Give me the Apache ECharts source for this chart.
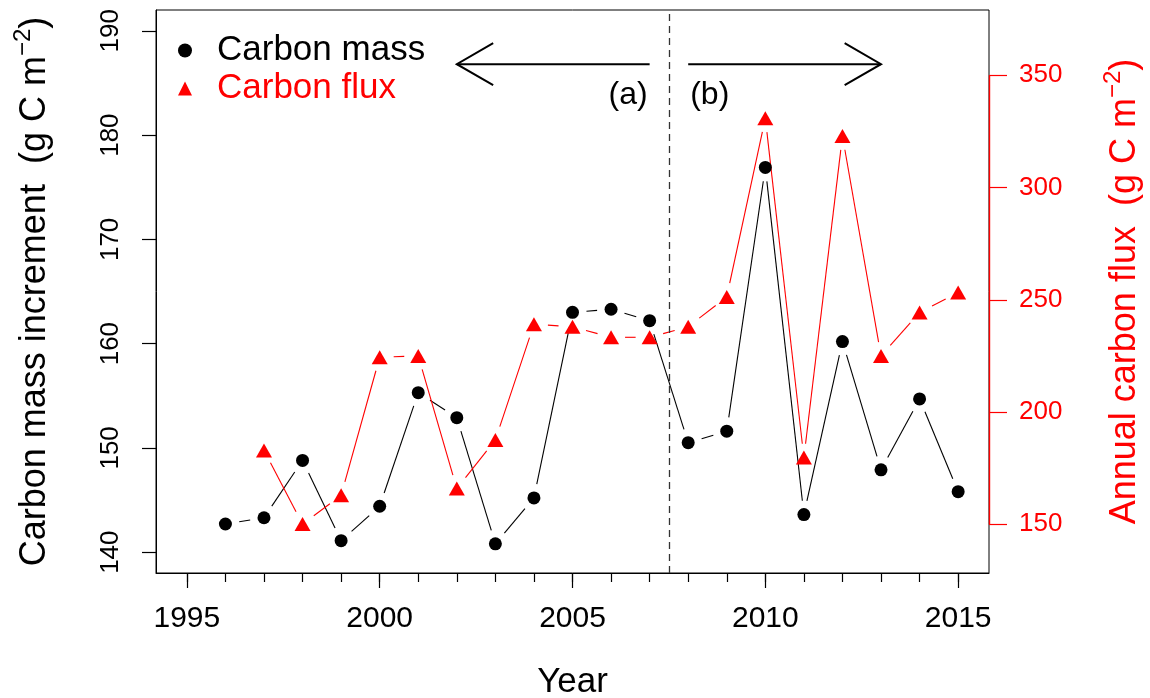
<!DOCTYPE html>
<html><head><meta charset="utf-8">
<script src="https://cdn.jsdelivr.net/npm/echarts@6/dist/echarts.min.js"></script>
<style>html,body{margin:0;padding:0;background:#fff}#c{width:1150px;height:698px}</style>
</head><body><div id="c"></div>
<script>
// ---- data ----
const massYears = [1996,1997,1998,1999,2000,2001,2002,2003,2004,2005,2006,2007,2008,2009,2010,2011,2012,2013,2014,2015];
const carbonMass = [142.7,143.3,148.8,141.1,144.4,155.3,152.9,140.8,145.2,163.0,163.3,162.2,150.5,151.6,176.9,143.6,160.2,147.9,154.7,145.8];
const fluxYears = [1997,1998,1999,2000,2001,2002,2003,2004,2005,2006,2007,2008,2009,2010,2011,2012,2013,2014,2015];
const carbonFlux = [182.9,150.1,162.9,224.4,225.0,165.9,187.6,239.1,238.0,233.3,233.3,238.0,251.3,330.9,179.7,323.0,225.0,244.4,253.2];
const xTicks = [1995,2000,2005,2010,2015];
const xMinorTicks = [1995,1996,1997,1998,1999,2000,2001,2002,2003,2004,2005,2006,2007,2008,2009,2010,2011,2012,2013,2014,2015];
const leftTicks = [140,150,160,170,180,190];
const rightTicks = [150,200,250,300,350];
// annotations (data units)
const dividerYear = 2007.5;
const arrowLevel = 186.8;
const arrowA = [2007, 2002];
const arrowB = [2008, 2013];
const labelLevel = 183.8;

const FONT = 'Liberation Sans, Arial, sans-serif';
const chart = echarts.init(document.getElementById('c'));

function gapLine(xs, ys, yIdx, color, gap) {
  const data = [];
  for (let i = 0; i < xs.length - 1; i++) data.push([xs[i], ys[i], xs[i+1], ys[i+1]]);
  return {
    type: 'custom', yAxisIndex: yIdx, silent: true, z: 2, clip: true,
    data: data, encode: {x: [0, 2], y: [1, 3]},
    renderItem: function (params, api) {
      const p1 = api.coord([api.value(0), api.value(1)]);
      const p2 = api.coord([api.value(2), api.value(3)]);
      const dx = p2[0] - p1[0], dy = p2[1] - p1[1], L = Math.hypot(dx, dy);
      if (L <= 2 * gap) return null;
      const ux = dx / L, uy = dy / L;
      return {type: 'line', shape: {x1: p1[0] + ux * gap, y1: p1[1] + uy * gap, x2: p2[0] - ux * gap, y2: p2[1] - uy * gap},
        style: {stroke: color, lineWidth: 1.1}};
    }
  };
}

const supStyle = (c) => ({fontSize: 24, verticalAlign: 'top', lineHeight: 8, color: c, fontFamily: FONT});

chart.setOption({
  animation: false,
  textStyle: {fontFamily: FONT},
  grid: {left: 156, right: 161, top: 10, bottom: 125, show: true, borderColor: '#000', borderWidth: 1,
    containLabel: false, outerBoundsMode: 'none'},
  legend: {
    orient: 'vertical', left: 173, top: 28, itemWidth: 14, itemHeight: 14, itemGap: 3,
    textStyle: {fontSize: 35, fontFamily: FONT, lineHeight: 35, padding: [0, 0, 0, 20]},
    data: [
      {name: 'Carbon mass', icon: 'circle', itemStyle: {color: '#000', opacity: 1}, textStyle: {color: '#000'}},
      {name: 'Carbon flux', icon: 'triangle', itemStyle: {color: '#ff0000', opacity: 1}, textStyle: {color: '#ff0000'}}
    ]
  },
  xAxis: [{
    type: 'value', min: 1994.2, max: 2015.8, position: 'bottom',
    axisLine: {show: true, lineStyle: {color: '#000'}},
    axisTick: {show: true, customValues: xTicks, length: 15, lineStyle: {color: '#000', width: 1.2}},
    axisLabel: {customValues: xTicks, fontSize: 30, color: '#000', margin: 31, fontFamily: FONT,
      formatter: (v) => String(Math.round(v))},
    splitLine: {show: false},
    name: 'Year', nameLocation: 'middle', nameGap: 92,
    nameTextStyle: {fontSize: 35, color: '#000', fontFamily: FONT}
  }, {
    type: 'value', min: 1994.2, max: 2015.8, position: 'bottom',
    axisLine: {show: false},
    axisTick: {show: true, customValues: xMinorTicks, length: 9, lineStyle: {color: '#000', width: 1.2}},
    axisLabel: {show: false}, splitLine: {show: false}
  }],
  yAxis: [{
    type: 'value', min: 138, max: 192, position: 'left',
    axisLine: {show: true, lineStyle: {color: '#000'}},
    axisTick: {show: true, customValues: leftTicks, length: 14, lineStyle: {color: '#000', width: 1.2}},
    axisLabel: {customValues: leftTicks, rotate: 90, fontSize: 26, color: '#000', margin: 32, fontFamily: FONT},
    splitLine: {show: false},
    name: 'Carbon mass increment  (g C m{sup|\u22122})', nameLocation: 'middle', nameRotate: 90, nameGap: 97,
    nameTextStyle: {fontSize: 36, color: '#000', fontFamily: FONT, lineHeight: 48, rich: {sup: supStyle('#000')}}
  }, {
    type: 'value', min: 128.3, max: 379.1, position: 'right',
    axisLine: {show: false},
    axisTick: {show: true, customValues: rightTicks, length: 18, lineStyle: {color: '#ff0000', width: 1.2}},
    axisLabel: {customValues: rightTicks, fontSize: 26, color: '#ff0000', margin: 30, fontFamily: FONT},
    splitLine: {show: false},
    name: 'Annual carbon flux  (g C m{sup|\u22122})', nameLocation: 'middle', nameRotate: 90, nameGap: 112,
    nameTextStyle: {fontSize: 36, color: '#ff0000', fontFamily: FONT, lineHeight: 48, rich: {sup: supStyle('#ff0000')}}
  }],
  series: [
    gapLine(massYears, carbonMass, 0, '#000', 14),
    gapLine(fluxYears, carbonFlux, 1, '#ff0000', 14),
    {
      name: 'Carbon mass', type: 'scatter', yAxisIndex: 0, symbol: 'circle', symbolSize: 13, z: 3,
      itemStyle: {color: '#000', opacity: 1},
      data: massYears.map((y, i) => [y, carbonMass[i]]),
      markLine: {silent: true, symbol: 'none', label: {show: false},
        lineStyle: {color: '#333', type: [7, 5], width: 1.3},
        data: [{xAxis: dividerYear}]}
    },
    {
      name: 'Carbon flux', type: 'scatter', yAxisIndex: 1, symbol: 'triangle', symbolSize: [16, 14], z: 3,
      itemStyle: {color: '#ff0000', opacity: 1},
      data: fluxYears.map((y, i) => [y, carbonFlux[i]]),
      markLine: {silent: true, symbol: 'none', label: {show: false},
        lineStyle: {color: '#ff0000', type: 'solid', width: 1.4},
        data: [[{coord: [2015.8, rightTicks[0]]}, {coord: [2015.8, rightTicks[rightTicks.length - 1]]}]]}
    }
  ]
});

// arrows and panel labels, placed through the axes' own conversion
function px(x, y) { return chart.convertToPixel({xAxisIndex: 0, yAxisIndex: 0}, [x, y]); }
function arrow(fromX, toX) {
  const a = px(fromX, arrowLevel), b = px(toX, arrowLevel);
  const dir = Math.sign(b[0] - a[0]);
  const hl = 42, ang = Math.PI / 6;
  const hx = b[0] - dir * hl * Math.cos(ang), hy = hl * Math.sin(ang);
  return [
    {type: 'line', shape: {x1: a[0], y1: a[1], x2: b[0], y2: b[1]}, style: {stroke: '#000', lineWidth: 2}, z: 10},
    {type: 'polyline', shape: {points: [[hx, b[1] - hy], [b[0], b[1]], [hx, b[1] + hy]]}, style: {stroke: '#000', lineWidth: 2, fill: null}, z: 10}
  ];
}
const la = px(arrowA[0], labelLevel), lb = px(arrowB[0], labelLevel);
chart.setOption({
  graphic: [].concat(arrow(arrowA[0], arrowA[1]), arrow(arrowB[0], arrowB[1]), [
    {type: 'text', x: la[0] - 2, y: la[1], z: 10, style: {text: '(a)', fontSize: 32, fontFamily: FONT, fill: '#000', align: 'right', verticalAlign: 'middle'}},
    {type: 'text', x: lb[0] + 2, y: lb[1], z: 10, style: {text: '(b)', fontSize: 32, fontFamily: FONT, fill: '#000', align: 'left', verticalAlign: 'middle'}}
  ])
});
</script></body></html>
